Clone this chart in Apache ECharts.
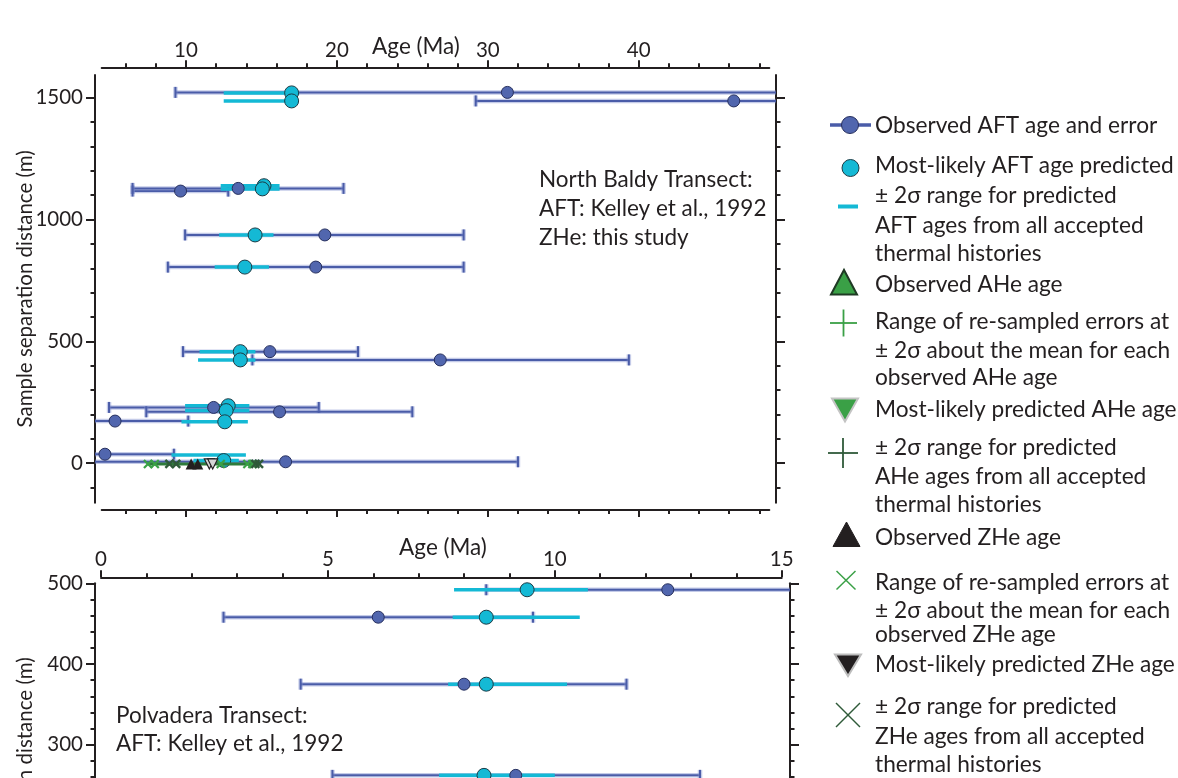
<!DOCTYPE html>
<html><head><meta charset="utf-8">
<script src="https://cdn.jsdelivr.net/npm/echarts@6/dist/echarts.min.js"></script>
<style>html,body{margin:0;padding:0;background:#fff}#c{width:1178px;height:778px}</style>
</head><body><div id="c"></div>
<script>
// ---------------- DATA ----------------
// North Baldy transect (top panel) – observed AFT ages and 2-sigma errors (Ma), distance (m)
const nbAftAge  = [31.3, 46.3, 9.64, 13.46, 19.2, 18.6, 15.56, 26.85, 11.83, 16.2, 5.3, 4.63, 16.6];
const nbAftLo   = [9.3, 29.2, 6.46, 6.46, 9.94, 8.8, 9.8, 14.4, 4.9, 7.37, 0.5, 0.5, 0.5];
const nbAftHi   = [60, 60, 12.8, 20.44, 28.4, 28.4, 21.4, 39.35, 18.8, 25.0, 10.15, 9.2, 32.0];
const nbAftDist = [1522, 1487, 1117, 1128, 937, 805, 458, 424, 229, 211, 173, 37, 6];
// North Baldy – most-likely predicted AFT ages and range
const nbPredAge  = [17.0, 17.0, 15.17, 15.06, 14.58, 13.9, 13.6, 13.6, 12.8, 12.66, 12.57, null, 12.5];
const nbPredLo   = [12.5, 12.5, 12.3, 12.3, 12.2, 11.9, 10.9, 10.8, 9.94, 9.94, 9.7, 9.04, 10.5];
const nbPredHi   = [17.5, 17.3, 16.2, 16.2, 15.8, 15.5, 14.6, 14.6, 14.2, 14.2, 14.1, 13.97, 13.5];
const nbPredDist = [1520, 1487, 1139, 1126, 937, 805, 458, 424, 236, 216, 170, 34, 11];
// North Baldy – ZHe
const zheDist      = -3;
const zheObs       = [10.34, 10.78];            // observed ZHe
const zhePred      = [11.55, 11.77];            // most-likely predicted ZHe
const zheResampled = [7.48, 7.93, 12.3, 14.07, 14.4]; // re-sampled errors
const zhePredRange = [8.9, 9.35, 14.6, 14.84];  // predicted range
// Polvadera transect (bottom panel)
const pvAftAge   = [12.49, 6.11, 8.0, 9.14];
const pvAftLo    = [8.49, 2.70, 4.40, 5.1];
const pvAftHi    = [17, 9.52, 11.58, 13.2];
const pvAftDist  = [492, 458, 375, 262];
const pvPredAge  = [9.39, 8.49, 8.49, 8.44];
const pvPredLo   = [7.78, 7.75, 7.65, 7.45];
const pvPredHi   = [10.73, 10.55, 10.27, 10.0];
const pvPredDist = [492, 458, 375, 262];
// ticks
const nbAgeMajor  = [10, 20, 30, 40];
const nbAgeMinor  = [6, 8, 12, 14, 16, 18, 22, 24, 26, 28, 32, 34, 36, 38, 42, 44, 46, 48];
const nbDistMajor = [0, 500, 1000, 1500];
const nbDistMinor = [-100, 0, 100, 200, 300, 400, 500, 600, 700, 800, 900, 1000, 1100, 1200, 1300, 1400, 1500];
const pvDistMajor = [0, 100, 200, 300, 400, 500];
const pvDistMinor = [-20, 0, 20, 40, 60, 80, 100, 120, 140, 160, 180, 200, 220, 240, 260, 280, 300, 320, 340, 360, 380, 400, 420, 440, 460, 480, 500];

// ---------------- STYLE ----------------
const FONT = 'Lato', INK = '#231f20';
const AFT_LINE = '#4a5ca8', AFT_HALO = 'rgba(125,140,205,0.45)', AFT_FILL = '#5166ae', AFT_STROKE = '#27305e';
const CYAN = '#14b9d5', CYAN_STROKE = '#1d3c46';
const G_LIGHT = '#3aa046', G_DARK = '#2f5a39', G_LINE = '#2e7b3b';

function errBar(color, width, halo, haloW, cap) {
  return function (params, api) {
    const lo = api.value(0), hi = api.value(1), d = api.value(2);
    const cs = params.coordSys;
    const a = api.coord([lo, d]), b = api.coord([hi, d]);
    const xl = cs.x, xr = cs.x + cs.width, y = a[1];
    const x1 = Math.max(a[0], xl), x2 = Math.min(b[0], xr);
    const ch = [];
    const seg = (p, st) => ({ type: 'line', shape: p, style: st });
    if (halo) ch.push(seg({ x1, y1: y, x2, y2: y }, { stroke: halo, lineWidth: haloW }));
    ch.push(seg({ x1, y1: y, x2, y2: y }, { stroke: color, lineWidth: width }));
    if (cap) {
      [a[0], b[0]].forEach(x => {
        if (x >= xl && x <= xr) {
          ch.push(seg({ x1: x, y1: y - 5.5, x2: x, y2: y + 5.5 }, { stroke: halo, lineWidth: haloW }));
          ch.push(seg({ x1: x, y1: y - 5.5, x2: x, y2: y + 5.5 }, { stroke: color, lineWidth: width }));
        }
      });
    }
    return { type: 'group', children: ch };
  };
}
function xMark(size, color, lw) {
  return function (params, api) {
    const p = api.coord([api.value(0), api.value(1)]), h = size / 2;
    return { type: 'group', children: [
      { type: 'line', shape: { x1: p[0] - h, y1: p[1] - h, x2: p[0] + h, y2: p[1] + h }, style: { stroke: color, lineWidth: lw } },
      { type: 'line', shape: { x1: p[0] + h, y1: p[1] - h, x2: p[0] - h, y2: p[1] + h }, style: { stroke: color, lineWidth: lw } }
    ] };
  };
}

// ---------------- AXES ----------------
const lab = { fontFamily: FONT, fontSize: 20.5, color: INK, formatter: v => String(v) };
const frameLine = { show: true, onZero: false, lineStyle: { color: INK, width: 2 } };
const noLine = { show: false, onZero: false };
const hiddenX = (g, min, max) => ({ gridIndex: g, type: 'value', min, max, show: false, axisLine: { onZero: false } });
const hiddenY = (g) => ({ gridIndex: g, type: 'value', min: 0, max: 1, show: false, axisLine: { onZero: false } });
const tickAxis = (base, ticks, len, labels, line) => Object.assign({
  type: 'value', axisLine: line ? frameLine : noLine, splitLine: { show: false },
  axisTick: { show: true, customValues: ticks, length: len, lineStyle: { color: INK, width: 2 } },
  axisLabel: labels ? Object.assign({ show: true, customValues: labels }, lab) : { show: false }
}, base);

const NB_X = [3.97, 49.10], NB_XA = [4.414, 48.655], NB_Y = [-162, 1593.4];
const PV_X = [-0.132, 15.183], PV_Y = [-27, 500];
const yName = 'Sample separation distance (m)';
const nameStyle = { fontFamily: FONT, fontSize: 20.5, color: INK };

const xAxis = [
  hiddenX(0, NB_X[0], NB_X[1]),
  hiddenX(1, NB_X[0], NB_X[1]),
  tickAxis({ gridIndex: 2, position: 'top', min: NB_XA[0], max: NB_XA[1] }, nbAgeMinor, 4, null, true),
  tickAxis({ gridIndex: 2, position: 'bottom', min: NB_XA[0], max: NB_XA[1] }, nbAgeMinor, 4, null, true),
  tickAxis({ gridIndex: 3, position: 'top', min: NB_XA[0], max: NB_XA[1], axisLabel: Object.assign({ customValues: nbAgeMajor, margin: 6 }, lab) }, nbAgeMajor, 7, nbAgeMajor, false),
  tickAxis({ gridIndex: 3, position: 'bottom', min: NB_XA[0], max: NB_XA[1] }, nbAgeMajor, 7, null, false),
  hiddenX(4, PV_X[0], PV_X[1]),
  hiddenX(5, PV_X[0], PV_X[1]),
  { gridIndex: 6, type: 'value', position: 'top', min: 0, max: 15, interval: 5,
    axisLine: frameLine, splitLine: { show: false },
    axisTick: { show: true, length: 7, lineStyle: { color: INK, width: 2 } },
    minorTick: { show: true, splitNumber: 5, length: 4, lineStyle: { color: INK, width: 2 } },
    axisLabel: Object.assign({ margin: 7 }, lab) }
];
const yAxis = [
  tickAxis({ gridIndex: 0, position: 'left', min: NB_Y[0], max: NB_Y[1], name: yName, nameLocation: 'middle', nameGap: 59, nameMoveOverlap: false, nameTextStyle: nameStyle,
    axisLabel: Object.assign({ customValues: nbDistMajor, margin: 12 }, lab) }, nbDistMajor, 9, nbDistMajor, true),
  tickAxis({ gridIndex: 0, position: 'right', min: NB_Y[0], max: NB_Y[1] }, nbDistMajor, 9, null, true),
  tickAxis({ gridIndex: 1, position: 'left', min: NB_Y[0], max: NB_Y[1] }, nbDistMinor, 4.5, null, false),
  tickAxis({ gridIndex: 1, position: 'right', min: NB_Y[0], max: NB_Y[1] }, nbDistMinor, 4.5, null, false),
  hiddenY(2), hiddenY(3),
  tickAxis({ gridIndex: 4, position: 'left', min: PV_Y[0], max: PV_Y[1], name: yName, nameLocation: 'middle', nameGap: 59, nameMoveOverlap: false, nameTextStyle: nameStyle,
    axisLabel: Object.assign({ customValues: pvDistMajor, margin: 12 }, lab) }, pvDistMajor, 9, pvDistMajor, true),
  tickAxis({ gridIndex: 4, position: 'right', min: PV_Y[0], max: PV_Y[1] }, pvDistMajor, 9, null, true),
  tickAxis({ gridIndex: 5, position: 'left', min: PV_Y[0], max: PV_Y[1] }, pvDistMinor, 4.5, null, false),
  tickAxis({ gridIndex: 5, position: 'right', min: PV_Y[0], max: PV_Y[1] }, pvDistMinor, 4.5, null, false),
  hiddenY(6)
];
const G = (left, top, width, height) => ({ left, top, width, height, outerBoundsMode: 'none', containLabel: false });
const grid = [
  G(95, 75, 681, 427.7),
  G(95, 75, 681, 427.7),
  G(101.7, 67.3, 667.6, 442.7),
  G(101.7, 67.3, 667.6, 442.7),
  G(95, 583.3, 695, 425.3),
  G(95, 583.3, 695, 425.3),
  G(101, 577.3, 680.7, 400)
];

// ---------------- SERIES ----------------
function panelSeries(xi, yi, aAge, aLo, aHi, aD, pAge, pLo, pHi, pD) {
  return [
    { type: 'custom', xAxisIndex: xi, yAxisIndex: yi, z: 2, renderItem: errBar(AFT_LINE, 2, AFT_HALO, 4.5, true),
      data: aLo.map((v, i) => [v, aHi[i], aD[i]]) },
    { type: 'custom', xAxisIndex: xi, yAxisIndex: yi, z: 3, renderItem: errBar(CYAN, 3.5, null, 0, false),
      data: pLo.map((v, i) => [v, pHi[i], pD[i]]) },
    { type: 'scatter', xAxisIndex: xi, yAxisIndex: yi, z: 4, symbol: 'circle', symbolSize: 12,
      itemStyle: { color: AFT_FILL, borderColor: AFT_STROKE, borderWidth: 1, opacity: 1 },
      data: aAge.map((v, i) => [v, aD[i]]) },
    { type: 'scatter', xAxisIndex: xi, yAxisIndex: yi, z: 5, symbol: 'circle', symbolSize: 14,
      itemStyle: { color: CYAN, borderColor: CYAN_STROKE, borderWidth: 1, opacity: 1 },
      data: pAge.map((v, i) => [v, pD[i]]).filter(p => p[0] !== null) }
  ];
}
const heAll = zheResampled.concat(zhePredRange);
const series = [].concat(
  panelSeries(0, 0, nbAftAge, nbAftLo, nbAftHi, nbAftDist, nbPredAge, nbPredLo, nbPredHi, nbPredDist),
  [
    { type: 'custom', xAxisIndex: 0, yAxisIndex: 0, z: 6, renderItem: errBar(G_LINE, 3, null, 0, false),
      data: [[Math.min(...heAll), Math.max(...heAll), zheDist]] },
    { type: 'custom', xAxisIndex: 0, yAxisIndex: 0, z: 7, renderItem: xMark(8, G_LIGHT, 2.2),
      data: zheResampled.map(v => [v, zheDist]) },
    { type: 'custom', xAxisIndex: 0, yAxisIndex: 0, z: 7, renderItem: xMark(8, G_DARK, 2.4),
      data: zhePredRange.map(v => [v, zheDist]) },
    { type: 'scatter', xAxisIndex: 0, yAxisIndex: 0, z: 8, symbol: 'triangle', symbolSize: [11, 11],
      itemStyle: { color: INK, opacity: 1 }, data: zheObs.map(v => [v, zheDist]) },
    { type: 'scatter', xAxisIndex: 0, yAxisIndex: 0, z: 8, symbol: 'triangle', symbolRotate: 180, symbolSize: [10, 10],
      itemStyle: { color: '#d6d6d6', borderColor: INK, borderWidth: 1.2, opacity: 1 }, data: zhePred.map(v => [v, zheDist]) }
  ],
  panelSeries(6, 6, pvAftAge, pvAftLo, pvAftHi, pvAftDist, pvPredAge, pvPredLo, pvPredHi, pvPredDist)
);

// ---------------- TEXT & LEGEND (graphic) ----------------
const txt = (text, x, y, size, align) => ({ type: 'text', x, y, silent: true,
  style: { text, font: (size || 21) + 'px ' + FONT, fill: INK, align: align || 'left', verticalAlign: 'middle' } });
const ln = (x1, y1, x2, y2, c, w) => ({ type: 'line', silent: true, shape: { x1, y1, x2, y2 }, style: { stroke: c, lineWidth: w } });
const poly = (pts, fill, stroke, w) => ({ type: 'polygon', silent: true, shape: { points: pts }, style: { fill, stroke, lineWidth: w } });
const LX = 875;
const legendTexts = [
  ['Observed AFT age and error', 126],
  ['Most-likely AFT age predicted', 166],
  ['± 2σ range for predicted', 196], ['AFT ages from all accepted', 225.5], ['thermal histories', 254],
  ['Observed AHe age', 285],
  ['Range of re-sampled errors at', 321.5], ['± 2σ about the mean for each', 350.5], ['observed AHe age', 378],
  ['Most-likely predicted AHe age', 410],
  ['± 2σ range for predicted', 448], ['AHe ages from all accepted', 477], ['thermal histories', 505],
  ['Observed ZHe age', 537.5],
  ['Range of re-sampled errors at', 583], ['± 2σ about the mean for each', 611], ['observed ZHe age', 635],
  ['Most-likely predicted ZHe age', 665],
  ['± 2σ range for predicted', 707], ['ZHe ages from all accepted', 736.5], ['thermal histories', 765]
];
const graphic = [
  txt('Age (Ma)', 416, 47, 22.5, 'center'),
  txt('Age (Ma)', 443, 547.5, 22.5, 'center'),
  txt('North Baldy Transect:', 539, 179.5, 22.5),
  txt('AFT: Kelley et al., 1992', 539, 209, 22.5),
  txt('ZHe: this study', 539, 237.5, 22.5),
  txt('Polvadera Transect:', 116, 715.5, 22.5),
  txt('AFT: Kelley et al., 1992', 116, 744, 22.5),
  // legend icons
  ln(830, 125, 871, 125, AFT_LINE, 3.5),
  { type: 'circle', silent: true, shape: { cx: 850, cy: 125, r: 8.5 }, style: { fill: AFT_FILL, stroke: AFT_STROKE, lineWidth: 1 } },
  { type: 'circle', silent: true, shape: { cx: 850.5, cy: 168, r: 8.5 }, style: { fill: CYAN, stroke: CYAN_STROKE, lineWidth: 1 } },
  { type: 'rect', silent: true, shape: { x: 838, y: 204.5, width: 20, height: 4 }, style: { fill: CYAN } },
  poly([[831, 294.5], [844, 270], [857, 294.5]], G_LIGHT, '#1f3a24', 2),
  ln(830, 323, 857, 323, G_LIGHT, 1.8), ln(843.5, 309.5, 843.5, 336.5, G_LIGHT, 1.8),
  poly([[832, 398.5], [858, 398.5], [845, 421.5]], G_LIGHT, '#c4c4c4', 2),
  ln(828, 453, 858, 453, G_DARK, 1.8), ln(843, 438, 843, 468, G_DARK, 1.8),
  poly([[833, 546.5], [846.5, 522], [860, 546.5]], INK, INK, 1),
  ln(836.5, 571, 855.5, 589.5, G_LIGHT, 1.5), ln(855.5, 571, 836.5, 589.5, G_LIGHT, 1.5),
  poly([[835, 654.5], [861, 654.5], [848, 676]], INK, '#bdbdbd', 2),
  ln(836, 703, 860, 727, G_DARK, 1.5), ln(860, 703, 836, 727, G_DARK, 1.5)
].concat(legendTexts.map(t => txt(t[0], LX, t[1], 22.7)));

const option = { animation: false, backgroundColor: '#fff', grid, xAxis, yAxis, series, graphic };
const chart = echarts.init(document.getElementById('c'));
chart.setOption(option);
</script></body></html>
